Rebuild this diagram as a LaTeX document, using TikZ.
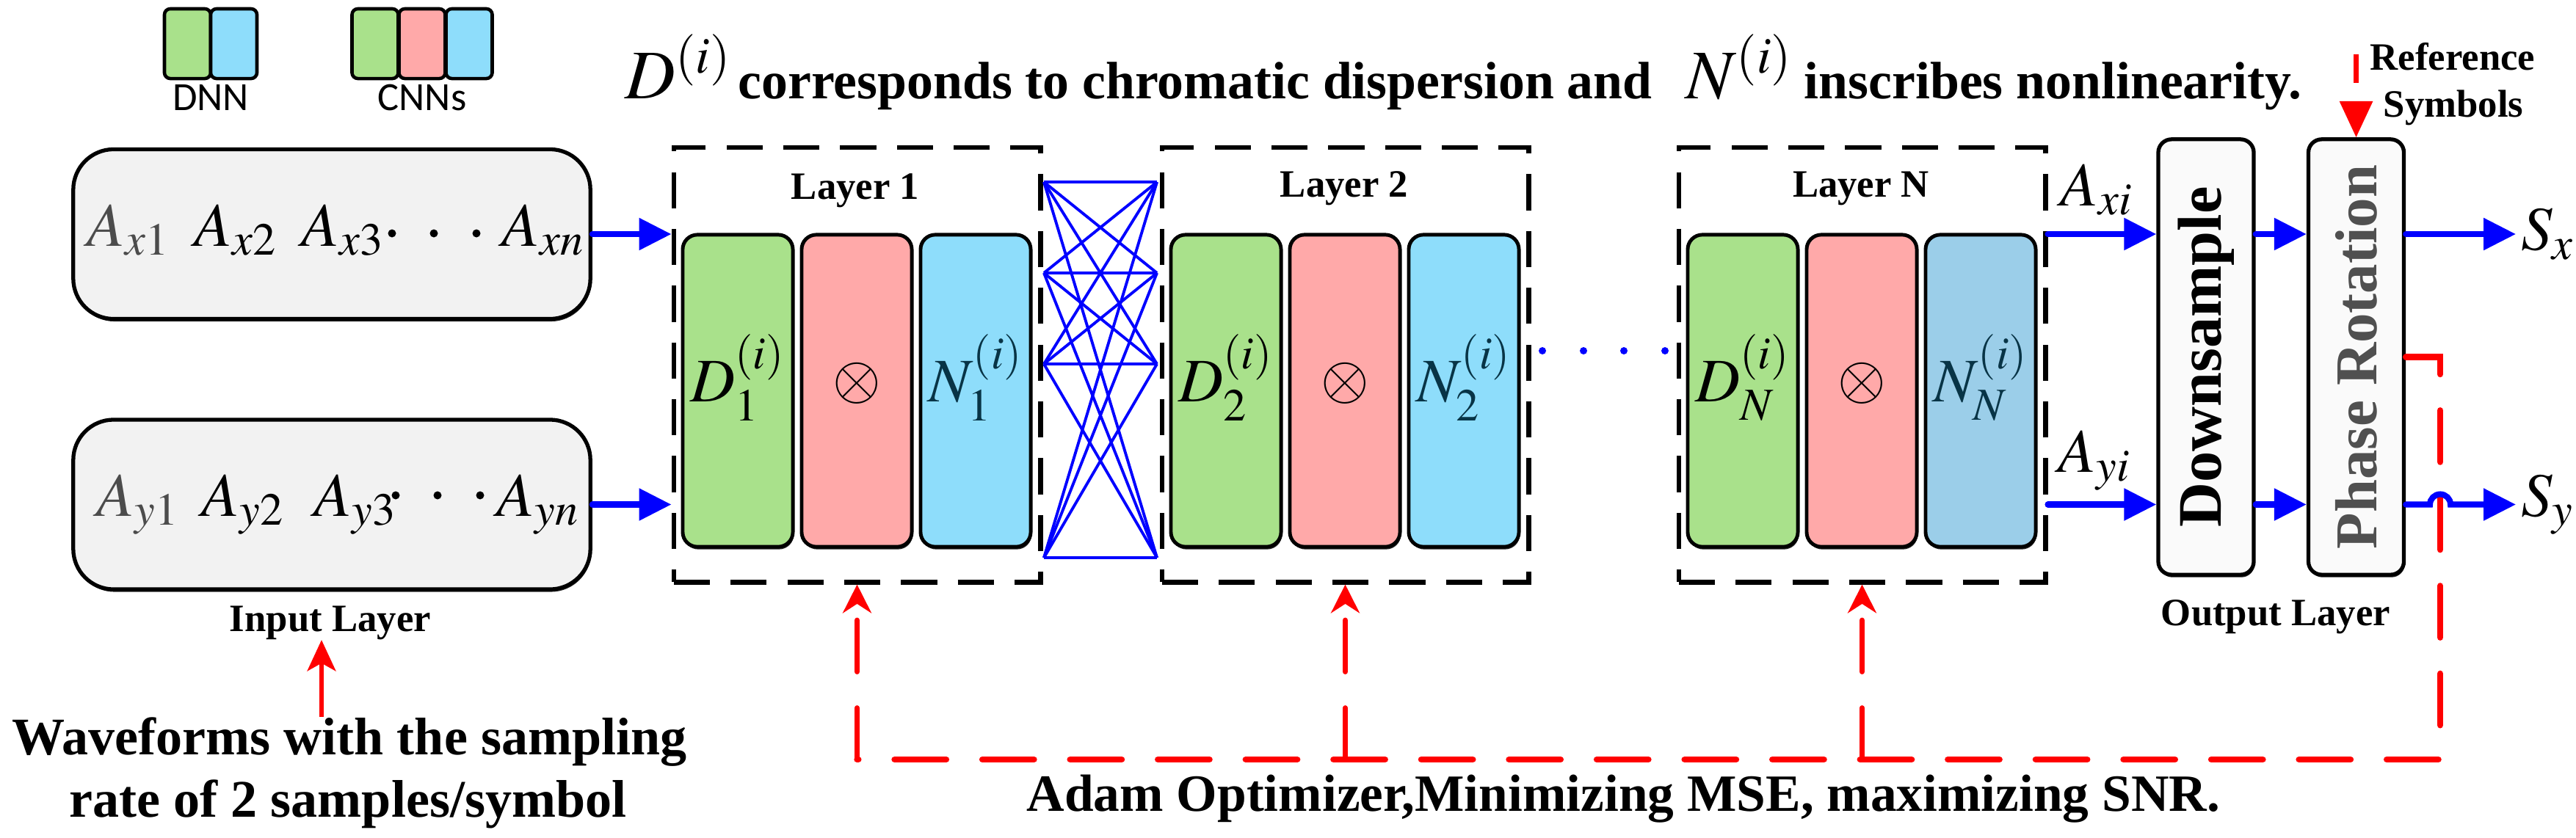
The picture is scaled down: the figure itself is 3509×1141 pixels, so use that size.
\documentclass[tikz,border=0pt]{standalone}
\usepackage{amsmath}
\usepackage{mathptmx}
\usepackage{fontspec}
\setmainfont{Liberation Serif}
\newfontfamily\carlfont{Carlito}
\usetikzlibrary{arrows.meta,calc,shadows}
\newcommand{\fsz}[1]{\fontsize{#1}{#1}\selectfont}
\definecolor{cgreen}{RGB}{169,225,139}
\definecolor{cpink}{RGB}{255,169,169}
\definecolor{cblue}{RGB}{142,221,251}
\definecolor{cblueN}{RGB}{155,206,233}
\definecolor{cgray}{RGB}{242,242,242}
\definecolor{cbox}{RGB}{250,250,250}
\definecolor{nteal}{RGB}{8,52,70}
\definecolor{pgray}{RGB}{80,80,80}
\begin{document}
\begin{tikzpicture}[x=0.01cm,y=-0.01cm,
  shad/.style={drop shadow={shadow xshift=0.012cm,shadow yshift=-0.035cm,fill=black!85,opacity=1}},
  lg/.style={draw=black,line width=1.3pt,rounded corners=0.08cm,minimum width=0.63cm,minimum height=0.95cm,inner sep=0},
  blk/.style={draw=black,line width=1.4pt,rounded corners=0.2cm,minimum width=1.5cm,minimum height=4.25cm,inner sep=0,shad},
  layerbox/.style={draw=black,line width=1.9pt,dash pattern=on 14pt off 8pt,minimum width=4.99cm,minimum height=5.92cm,inner sep=0},
  inbox/.style={draw=black,fill=cgray,line width=1.5pt,rounded corners=0.55cm,minimum width=7.04cm,minimum height=2.31cm,inner sep=0,shad},
  outbox/.style={draw=black,fill=cbox,line width=1.5pt,rounded corners=0.18cm,minimum width=1.30cm,minimum height=5.93cm,inner sep=0,shad},
  barrow/.style={blue,line width=2.3pt,line cap=round,-{Triangle[length=12.5pt,width=12pt]}},
  meshline/.style={blue,line width=1.1pt},
  rline/.style={red,line width=2.4pt,line cap=round,dash pattern=on 20pt off 14pt},
  rbranch/.style={red,line width=2pt,line cap=round,dash pattern=on 20pt off 14pt,-{Stealth[length=11pt,width=11pt,inset=3.5pt]}},
  atext/.style={anchor=base west,inner sep=0,font=\fsz{24}},
  mlab/.style={inner sep=0,font=\fsz{24}},
  lbl/.style={anchor=base,inner sep=0,font=\bfseries\fsz{15}},
  big/.style={anchor=base,inner sep=0,font=\bfseries\fsz{20.5}}]
\useasboundingbox (0,0) rectangle (3509,1141);

% legend
\node[lg,fill=cgreen] (dnn1) at (255.5,59.5) {};
\node[lg,fill=cblue] (dnn2) at (318.5,59.5) {};
\node[lg,fill=cgreen] (cnn1) at (511,59.5) {};
\node[lg,fill=cpink] (cnn2) at (575,59.5) {};
\node[lg,fill=cblue] (cnn3) at (639,59.5) {};
\node[anchor=base,inner sep=0,font=\carlfont\fsz{15.5}] (dnnlab) at (287,150) {DNN};
\node[anchor=base,inner sep=0,font=\carlfont\fsz{15.5}] (cnnlab) at (575,150) {CNNs};

% title
\node[anchor=base west,inner sep=0,font=\fsz{27}] (t1) at (851,134) {$D^{(i)}$};
\node[anchor=base west,inner sep=0,font=\bfseries\fsz{20.4}] (t2) at (1005,134) {corresponds to chromatic dispersion and};
\node[anchor=base west,inner sep=0,font=\fsz{27}] (t3) at (2296,134) {$N^{(i)}$};
\node[anchor=base west,inner sep=0,font=\bfseries\fsz{20.4}] (t4) at (2457,134) {inscribes nonlinearity.};

% input boxes
\node[inbox] (in1) at (452,319) {};
\node[inbox] (in2) at (452,687.5) {};
\node[atext,text=black!70] (ax1) at (118,335) {$A_{x1}$};
\node[atext] (ax2) at (264,335) {$A_{x2}$};
\node[atext] (ax3) at (410,335) {$A_{x3}$};
\node[atext] (axn) at (683,335) {$A_{xn}$};
\fill (534,318) circle (0.055cm) (591,318) circle (0.055cm) (649,318) circle (0.055cm);
\node[atext,text=black!70] (ay1) at (131,703) {$A_{y1}$};
\node[atext] (ay2) at (274,703) {$A_{y2}$};
\node[atext] (ay3) at (427,703) {$A_{y3}$};
\node[atext] (ayn) at (676,703) {$A_{yn}$};
\fill (539,675) circle (0.055cm) (596,675) circle (0.055cm) (654,675) circle (0.055cm);
\node[lbl] (inlab) at (450,860) {Input Layer};
\node[big] (wave1) at (476,1028) {Waveforms with the sampling};
\node[big] (wave2) at (474,1113) {rate of 2 samples/symbol};
\coordinate (inax) at (438,0);
\draw[red,line width=1.8pt,-{Stealth[length=12pt,width=11pt,inset=3pt]}] (wave1.north -| inax) -- (inlab.south -| inax);

% layers
\node[layerbox] (L1) at (1167.5,497) {};
\node[layerbox] (L2) at (1832.5,497) {};
\node[layerbox] (LN) at (2536.5,497) {};
\node[lbl] (L1t) at (1165,271) {Layer 1};
\node[lbl] (L2t) at (1831,268) {Layer 2};
\node[lbl] (LNt) at (2535,268) {Layer N};

\node[blk,fill=cgreen] (d1) at (1005,532.5) {};
\node[blk,fill=cpink] (m1) at (1167,532.5) {};
\node[blk,fill=cblue] (n1) at (1329,532.5) {};
\node[blk,fill=cgreen] (d2) at (1670,532.5) {};
\node[blk,fill=cpink] (m2) at (1832,532.5) {};
\node[blk,fill=cblue] (n2) at (1994,532.5) {};
\node[blk,fill=cgreen] (dN) at (2374,532.5) {};
\node[blk,fill=cpink] (mN) at (2536,532.5) {};
\node[blk,fill=cblueN] (nN) at (2698,532.5) {};

\node[mlab] (d1t) at ($(d1.center)+(0,-18)$) {$D^{(i)}_{1}$};
\node[mlab] (m1t) at ($(m1.center)+(0,-10)$) {$\otimes$};
\node[mlab,text=nteal] (n1t) at ($(n1.center)+(0,-18)$) {$N^{(i)}_{1}$};
\node[mlab] (d2t) at ($(d2.center)+(0,-18)$) {$D^{(i)}_{2}$};
\node[mlab] (m2t) at ($(m2.center)+(0,-10)$) {$\otimes$};
\node[mlab,text=nteal] (n2t) at ($(n2.center)+(0,-18)$) {$N^{(i)}_{2}$};
\node[mlab] (dNt) at ($(dN.center)+(0,-18)$) {$D^{(i)}_{N}$};
\node[mlab] (mNt) at ($(mN.center)+(0,-10)$) {$\otimes$};
\node[mlab,text=nteal] (nNt) at ($(nN.center)+(0,-18)$) {$N^{(i)}_{N}$};

% mesh between layer 1 and 2
\foreach \i/\yy in {1/248,2/372,3/496,4/760}{
  \coordinate (ml\i) at (1422,\yy);
  \coordinate (mr\i) at (1576,\yy);}
\foreach \i in {1,...,4}{\foreach \j in {1,...,4}{\draw[meshline] (ml\i) -- (mr\j);}}

% dots
\fill[blue] (2101,478) circle (0.05cm) (2157,478) circle (0.05cm) (2212,478) circle (0.05cm) (2268,478) circle (0.05cm);

% input arrows
\draw[barrow] (in1.east) -- (L1.west |- in1.east);
\draw[barrow] (in2.east) -- (L1.west |- in2.east);

% output layer
\node[outbox] (DS) at (3005,486.5) {};
\node[outbox] (PR) at (3209.5,486.5) {};
\node[rotate=90,inner sep=0,font=\bfseries\fsz{24}] (DSt) at (DS.center) {Downsample};
\node[rotate=90,inner sep=0,font=\bfseries\fsz{23},text=pgray] (PRt) at (PR.center) {Phase Rotation};
\node[lbl] (outlab) at (3100,852) {Output Layer};
\node[atext] (axi) at (2806,280) {$A_{xi}$};
\node[atext] (ayi) at (2803,643) {$A_{yi}$};
\node[anchor=west,inner sep=2pt,font=\fsz{24}] (Sx) at (3427,319) {$S_x$};
\node[anchor=west,inner sep=2pt,font=\fsz{24}] (Sy) at (3427,687.5) {$S_y$};
\node[lbl] (ref1) at (3341,95) {Reference};
\node[lbl] (ref2) at (3342,159) {Symbols};
\coordinate (reft) at (3209.5,74);
\draw[red,line width=1.8pt,dash pattern=on 11pt off 8pt,-{Triangle[length=14pt,width=12.5pt]}] (reft) -- (PR.north);

\draw[barrow] (LN.east |- in1.east) -- (DS.west |- in1.east);
\draw[barrow] (DS.east |- in1.east) -- (PR.west |- in1.east);
\draw[barrow] (PR.east |- in1.east) -- (Sx.west);
\draw[barrow] (LN.east |- in2.east) -- (DS.west |- in2.east);
\draw[barrow] (DS.east |- in2.east) -- (PR.west |- in2.east);

% feedback path
\coordinate (rv) at (3324,1035);
\coordinate (bj1) at (L1.south |- rv);
\coordinate (bj2) at (L2.south |- rv);
\coordinate (bjN) at (LN.south |- rv);
\draw[rline] (PR.east) -| (rv) -- (bj1);
\draw[rbranch] (bj1) -- (L1.south);
\draw[rbranch] (bj2) -- (L2.south);
\draw[rbranch] (bjN) -- (LN.south);

% S_y arrow with jumper over the red line
\draw[barrow] (PR.east |- in2.east) -- ($(rv |- in2.east)+(-14,0)$) arc[start angle=180,end angle=0,radius=0.14cm] -- (Sy.west);

% bottom text
\node[anchor=base west,inner sep=0,font=\bfseries\fsz{20.3}] (adam) at (1398,1105) {Adam Optimizer,Minimizing MSE, maximizing SNR.};
\end{tikzpicture}
\end{document}
